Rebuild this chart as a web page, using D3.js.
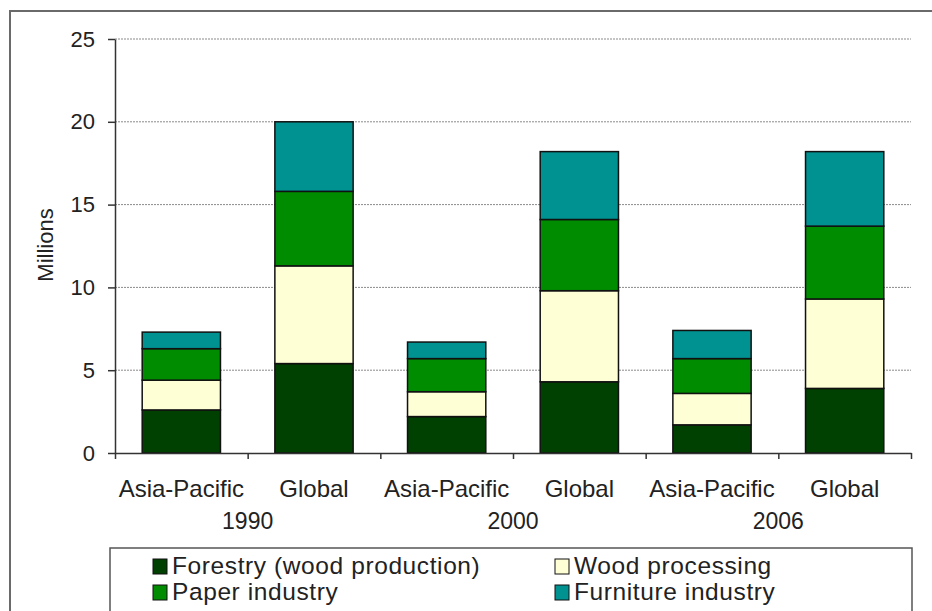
<!DOCTYPE html>
<html>
<head>
<meta charset="utf-8">
<script src="https://cdn.jsdelivr.net/npm/d3@7"></script>
<style>
  body { margin: 0; background: #fff; }
  svg text { font-family: "Liberation Sans", Arial, sans-serif; fill: #222; }
</style>
</head>
<body>
<div id="chart"></div>
<script>
// chart data
var categories = ["Asia-Pacific", "Global", "Asia-Pacific", "Global", "Asia-Pacific", "Global"];
var years = ["1990", "2000", "2006"];
var seriesNames = ["Forestry (wood production)", "Wood processing", "Paper industry", "Furniture industry"];
var forestry = [2.6, 5.4, 2.2, 4.3, 1.7, 3.9];
var woodProcessing = [1.8, 5.9, 1.5, 5.5, 1.9, 5.4];
var paperIndustry = [1.9, 4.5, 2.0, 4.3, 2.1, 4.4];
var furnitureIndustry = [1.0, 4.2, 1.0, 4.1, 1.7, 4.5];
var yTicks = [0, 5, 10, 15, 20, 25];

var colors = ["#004000", "#ffffd6", "#008c00", "#009191"];

var width = 932, height = 611;
var plotLeft = 115, plotRight = 911, plotTop = 39, plotBottom = 453;

var svg = d3.select("#chart").append("svg")
    .attr("width", width)
    .attr("height", height);

// outer frame
svg.append("rect")
    .attr("x", 10).attr("y", 11)
    .attr("width", 1000).attr("height", 700)
    .attr("fill", "none")
    .attr("stroke", "#6a6a6a")
    .attr("stroke-width", 2);

var x = d3.scaleBand()
    .domain(d3.range(categories.length))
    .range([plotLeft, plotRight])
    .paddingInner(0.41)
    .paddingOuter(0.205);

var y = d3.scaleLinear().domain([0, 25]).range([plotBottom, plotTop]);

// grid
svg.append("g").selectAll("line")
    .data(yTicks.filter(d => d > 0))
    .join("line")
    .attr("x1", plotLeft).attr("x2", plotRight)
    .attr("y1", d => y(d)).attr("y2", d => y(d))
    .attr("stroke", "#8a8a8a")
    .attr("stroke-width", 1)
    .attr("stroke-dasharray", "2,1");

// stacked bars
var rows = categories.map(function(c, i) {
    return { i: i, f: forestry[i], w: woodProcessing[i], p: paperIndustry[i], u: furnitureIndustry[i] };
});
var layers = d3.stack().keys(["f", "w", "p", "u"])(rows);

svg.append("g").selectAll("g")
    .data(layers)
    .join("g")
    .attr("fill", (d, k) => colors[k])
    .selectAll("rect")
    .data(d => d)
    .join("rect")
    .attr("x", d => x(d.data.i))
    .attr("width", x.bandwidth())
    .attr("y", d => y(d[1]))
    .attr("height", d => y(d[0]) - y(d[1]))
    .attr("stroke", "#111")
    .attr("stroke-width", 1.5);

// y axis
var yAxis = svg.append("g")
    .attr("transform", "translate(" + plotLeft + ",0)")
    .call(d3.axisLeft(y).tickValues(yTicks).tickSize(7).tickSizeOuter(0).tickPadding(13));
yAxis.selectAll("text").style("font-size", "22px").attr("fill", "#222");
yAxis.selectAll("line, path").attr("stroke", "#333").attr("stroke-width", 1.5);

// x axis, ticks at category boundaries
var xb = d3.scaleLinear().domain([0, categories.length]).range([plotLeft, plotRight]);
var xAxis = svg.append("g")
    .attr("transform", "translate(0," + plotBottom + ")")
    .call(d3.axisBottom(xb).tickValues(d3.range(categories.length + 1)).tickFormat("").tickSize(6).tickSizeOuter(0));
xAxis.selectAll("line, path").attr("stroke", "#333").attr("stroke-width", 1.5);

svg.append("g").selectAll("text")
    .data(categories)
    .join("text")
    .attr("x", (d, i) => x(i) + x.bandwidth() / 2)
    .attr("y", 497)
    .attr("text-anchor", "middle")
    .style("font-size", "24px")
    .text(d => d);

svg.append("g").selectAll("text")
    .data(years)
    .join("text")
    .attr("x", (d, i) => xb(i * 2 + 1))
    .attr("y", 529)
    .attr("text-anchor", "middle")
    .style("font-size", "23px")
    .text(d => d);

svg.append("text")
    .attr("transform", "translate(53,245) rotate(-90)")
    .attr("text-anchor", "middle")
    .style("font-size", "22px")
    .text("Millions");

// legend
var legend = svg.append("g");
legend.append("rect")
    .attr("x", 110).attr("y", 548)
    .attr("width", 802).attr("height", 80)
    .attr("fill", "#fff")
    .attr("stroke", "#555")
    .attr("stroke-width", 1.5);

var legPos = [[153, 574], [555, 574], [153, 600], [555, 600]];
var item = legend.selectAll("g.item")
    .data(seriesNames)
    .join("g")
    .attr("class", "item")
    .attr("transform", (d, i) => "translate(" + legPos[i][0] + "," + legPos[i][1] + ")");
item.append("rect")
    .attr("x", 0).attr("y", -15)
    .attr("width", 14).attr("height", 15)
    .attr("fill", (d, i) => colors[i])
    .attr("stroke", "#111")
    .attr("stroke-width", 1);
item.append("text")
    .attr("x", 19).attr("y", 0)
    .style("font-size", "24.5px")
    .style("letter-spacing", "0.6px")
    .text(d => d);
</script>
</body>
</html>
